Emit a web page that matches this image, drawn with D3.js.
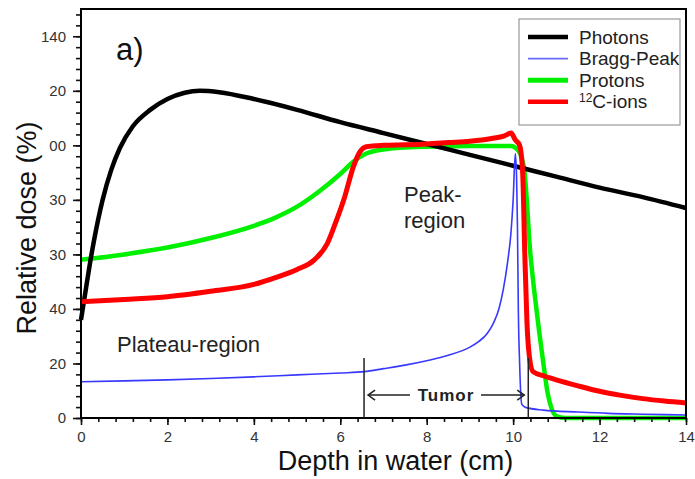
<!DOCTYPE html>
<html>
<head>
<meta charset="utf-8">
<script src="https://cdn.jsdelivr.net/npm/d3@7"></script>
<style>
  body { margin: 0; background: #fff; }
  svg { display: block; font-family: "Liberation Sans", Arial, sans-serif; }
</style>
</head>
<body>
<svg id="chart" width="695" height="479"></svg>
<script>
// depth (cm) / relative dose (%)
var photonDepth = [0, 0.1, 0.2, 0.3, 0.4, 0.5, 0.7, 0.9, 1.2, 1.6, 2.0, 2.4, 2.75, 3.2, 4, 5, 6, 7, 8, 9, 10, 11, 12, 13, 14];
var photonDose  = [36, 46, 56, 65, 73, 80, 91, 99, 107, 113, 117, 119.3, 120, 119.5, 117, 113, 108.5, 104.5, 100.5, 96.5, 92.5, 88.5, 84.5, 81, 77];

var braggDepth = [0, 1, 2, 3, 4, 5, 6, 6.55, 7, 7.5, 8, 8.5, 9, 9.2, 9.4, 9.55, 9.67, 9.77, 9.87, 9.95, 10.0, 10.05, 10.08, 10.1, 10.12, 10.15, 10.2, 10.3, 10.7, 11.5, 12.2, 13, 14];
var braggDose  = [13.3, 13.6, 14, 14.5, 15.1, 15.8, 16.5, 17, 18.1, 19.4, 21, 23, 26, 28, 31, 35, 40, 47, 57, 68, 80, 97, 88, 70, 40, 20, 5, 3.8, 2.9, 2.2, 1.7, 1.4, 1.1];

var protonDepth = [0, 1, 2, 3, 4, 4.5, 5, 5.5, 6, 6.3, 6.6, 7, 8, 9, 9.95, 10.1, 10.25, 10.4, 10.5, 10.6, 10.7, 10.8, 10.9, 11.0, 11.2, 14];
var protonDose  = [58, 60, 62.5, 66, 70.5, 73.5, 77.5, 83, 89.5, 94, 97, 98.5, 99.5, 99.8, 99.8, 98.5, 92, 60, 45, 32, 20, 9, 3, 0.7, 0, 0];

var carbonDepth = [0, 1, 2, 3, 4, 4.5, 5, 5.4, 5.7, 5.9, 6.1, 6.3, 6.45, 6.6, 7, 7.5, 8, 8.5, 9, 9.5, 9.8, 9.95, 10.05, 10.15, 10.22, 10.27, 10.32, 10.38, 10.46, 10.7, 11, 11.5, 12, 12.5, 13, 13.5, 14];
var carbonDose  = [42.6, 43.5, 44.5, 46.5, 49, 51.5, 54.5, 58, 64, 72, 81, 92, 97.5, 99.5, 100, 100.2, 100.5, 101, 101.5, 102.5, 103.5, 104.5, 102, 100, 90, 60, 35, 22, 17, 15.5, 14, 11.8, 9.8, 8.3, 7.1, 6.2, 5.5];

var xTicks = [0, 2, 4, 6, 8, 10, 12, 14];
var yTicks = [0, 20, 40, 60, 80, 100, 120, 140];
var yTickLabels = ["0", "20", "40", "30", "30", "00", "20", "140"];

var seriesNames = ["Photons", "Bragg-Peak", "Protons", "C-ions"];
var tumorRange = [6.55, 10.35];

var svg = d3.select("#chart");
var x = d3.scaleLinear().domain([0, 14]).range([81, 686]);
var y = d3.scaleLinear().domain([0, 150]).range([418, 9]);

var toPoints = function(xs, ys) {
    return xs.map(function(d, i) { return [d, ys[i]]; });
};

var line = d3.line()
    .x(function(d) { return x(d[0]); })
    .y(function(d) { return y(d[1]); })
    .curve(d3.curveMonotoneX);

var series = [
    { name: "Protons",    pts: toPoints(protonDepth, protonDose), colour: "#00f000", width: 4.5 },
    { name: "Photons",    pts: toPoints(photonDepth, photonDose), colour: "#000000", width: 4.5 },
    { name: "C-ions",     pts: toPoints(carbonDepth, carbonDose), colour: "#ff0000", width: 5 },
    { name: "Bragg-Peak", pts: toPoints(braggDepth, braggDose),   colour: "#3838ff", width: 1.6 }
];

// curves
svg.append("g").selectAll("path")
    .data(series)
  .enter()
    .append("path")
    .attr("d", function(d) { return line(d.pts); })
    .attr("fill", "none")
    .attr("stroke", function(d) { return d.colour; })
    .attr("stroke-width", function(d) { return d.width; })
    .attr("stroke-linejoin", "round");

// axes: minor ticks then major ticks
var styleAxis = function(g) {
    g.select(".domain").remove();
    g.selectAll("line").attr("stroke", "#111").attr("stroke-width", 1.6);
    g.selectAll("text").attr("fill", "#333").style("font-size", "15px")
        .style("font-family", "\"Liberation Sans\", Arial, sans-serif");
};

svg.append("g").attr("transform", "translate(0,418)")
    .call(d3.axisBottom(x).tickValues(d3.range(0, 14.01, 0.4)).tickSize(4).tickFormat(""))
    .call(styleAxis);
svg.append("g").attr("transform", "translate(0,418)")
    .call(d3.axisBottom(x).tickValues(xTicks).tickSize(7).tickPadding(6).tickFormat(d3.format("d")))
    .call(styleAxis);

svg.append("g").attr("transform", "translate(81,0)")
    .call(d3.axisLeft(y).tickValues(d3.range(0, 150, 4)).tickSize(5).tickFormat(""))
    .call(styleAxis);
svg.append("g").attr("transform", "translate(81,0)")
    .call(d3.axisLeft(y).tickValues(yTicks).tickSize(8).tickPadding(7)
        .tickFormat(function(d, i) { return yTickLabels[i]; }))
    .call(styleAxis);

// frame
svg.append("rect")
    .attr("x", x(0)).attr("y", y(150))
    .attr("width", x(14) - x(0)).attr("height", y(0) - y(150))
    .attr("fill", "none").attr("stroke", "#000").attr("stroke-width", 2);

// axis titles
svg.append("text")
    .attr("x", (x(0) + x(14)) / 2 + 12).attr("y", 470)
    .attr("text-anchor", "middle")
    .style("font-size", "27px").attr("fill", "#111")
    .text("Depth in water (cm)");

svg.append("text")
    .attr("transform", "translate(36,228) rotate(-90)")
    .attr("text-anchor", "middle")
    .style("font-size", "27px").attr("fill", "#111")
    .text("Relative dose (%)");

// annotations
svg.append("text").attr("x", 116).attr("y", 60)
    .style("font-size", "31px").attr("fill", "#111").text("a)");

var peak = svg.append("text").attr("x", 404).attr("y", 202)
    .style("font-size", "22px").attr("fill", "#222");
peak.append("tspan").attr("x", 404).text("Peak-");
peak.append("tspan").attr("x", 404).attr("dy", 26).text("region");

svg.append("text").attr("x", 117).attr("y", 352)
    .style("font-size", "22px").attr("fill", "#222").text("Plateau-region");

// tumor marker
var tumor = svg.append("g").attr("stroke", "#222").attr("stroke-width", 1.5);
tumor.selectAll("line.edge")
    .data(tumorRange)
  .enter()
    .append("line")
    .attr("class", "edge")
    .attr("x1", function(d) { return x(d); }).attr("x2", function(d) { return x(d); })
    .attr("y1", y(22)).attr("y2", y(0));

var arrowY = y(8.4);
tumor.append("line").attr("x1", x(tumorRange[0]) + 4).attr("x2", 410)
    .attr("y1", arrowY).attr("y2", arrowY);
tumor.append("line").attr("x1", 481).attr("x2", x(tumorRange[1]) - 4)
    .attr("y1", arrowY).attr("y2", arrowY);
tumor.append("path")
    .attr("d", "M" + (x(tumorRange[0]) + 11) + "," + (arrowY - 5) + "L" + (x(tumorRange[0]) + 4) + "," + arrowY +
        "L" + (x(tumorRange[0]) + 11) + "," + (arrowY + 5))
    .attr("fill", "none");
tumor.append("path")
    .attr("d", "M" + (x(tumorRange[1]) - 11) + "," + (arrowY - 5) + "L" + (x(tumorRange[1]) - 4) + "," + arrowY +
        "L" + (x(tumorRange[1]) - 11) + "," + (arrowY + 5))
    .attr("fill", "none");
svg.append("text").attr("x", 446).attr("y", arrowY + 6)
    .attr("text-anchor", "middle")
    .style("font-size", "17px").style("font-weight", "bold").style("letter-spacing", "1px")
    .attr("fill", "#222").text("Tumor");

// legend
var legendItems = [
    { name: "Photons",    colour: "#000000", width: 4.5 },
    { name: "Bragg-Peak", colour: "#6b6bff", width: 1.8 },
    { name: "Protons",    colour: "#00f000", width: 5 },
    { name: "C-ions",     colour: "#ff0000", width: 4.5 }
];

var legend = svg.append("g");
legend.append("rect")
    .attr("x", 519).attr("y", 19).attr("width", 161).attr("height", 106)
    .attr("fill", "#fff").attr("stroke", "#999").attr("stroke-width", 1.2);

var rows = legend.selectAll(".row")
    .data(legendItems)
  .enter()
    .append("g")
    .attr("class", "row")
    .attr("transform", function(d, i) { return "translate(0," + (37 + i * 21.6) + ")"; });

rows.append("line")
    .attr("x1", 528).attr("x2", 568)
    .attr("stroke", function(d) { return d.colour; })
    .attr("stroke-width", function(d) { return d.width; });

rows.append("text")
    .attr("x", 579).attr("y", 6.5)
    .style("font-size", "19px").attr("fill", "#222")
    .each(function(d) {
        var t = d3.select(this);
        if (d.name === "C-ions") {
            t.append("tspan").style("font-size", "12px").attr("dy", -6).text("12");
            t.append("tspan").attr("dy", 6).text("C-ions");
        } else {
            t.text(d.name);
        }
    });
</script>
</body>
</html>
